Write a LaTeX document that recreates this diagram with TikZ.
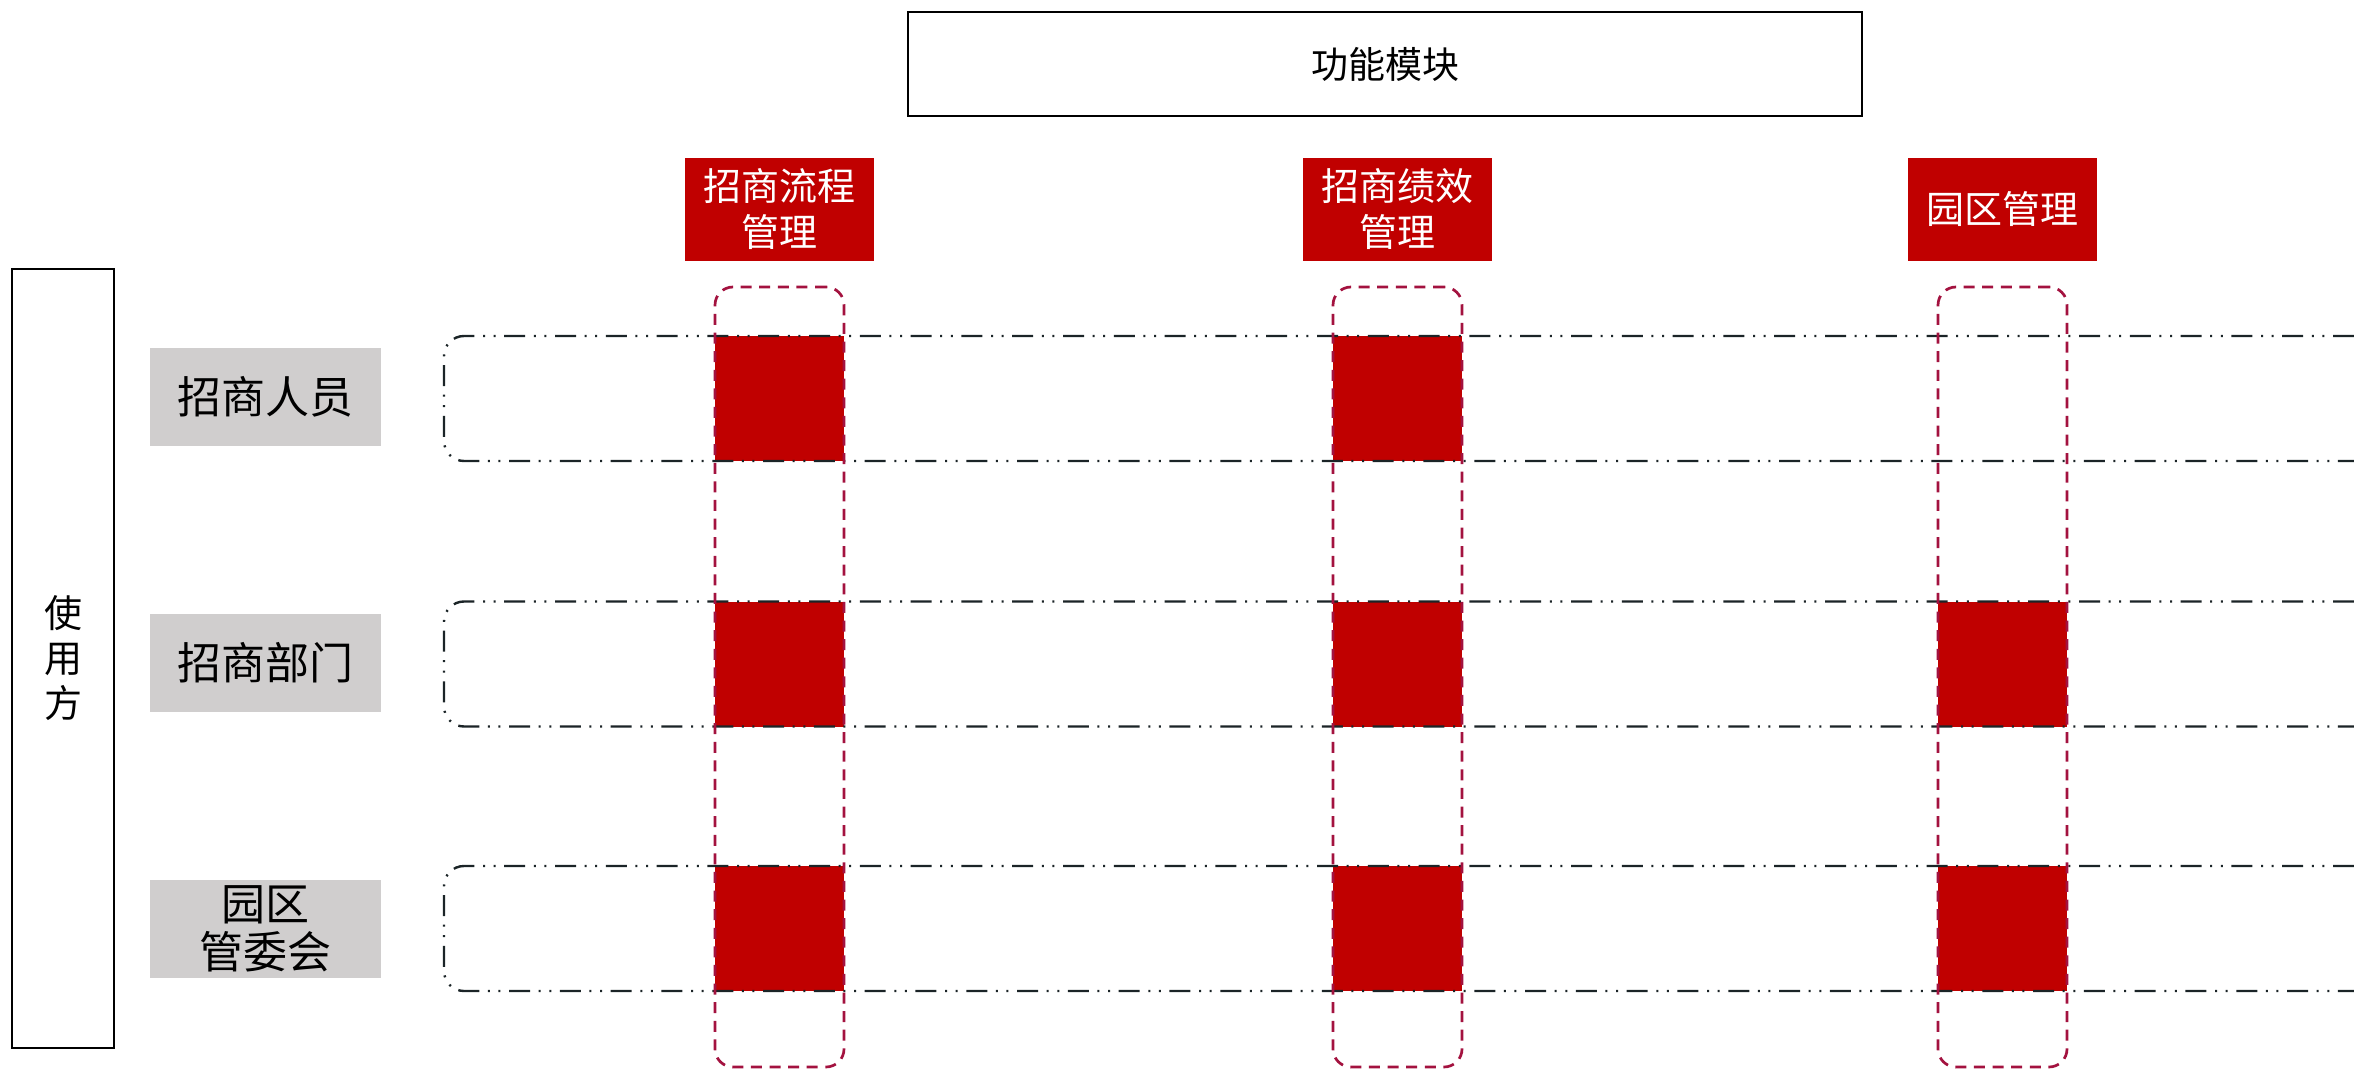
\documentclass[tikz,border=0pt]{standalone}
\usepackage{fontspec}
\newfontfamily\cjk{Noto Sans CJK SC}
\definecolor{hdrred}{HTML}{C00000}
\definecolor{colred}{HTML}{A3123F}
\definecolor{rowline}{HTML}{1B2427}
\definecolor{lblgray}{HTML}{D0CECE}
\begin{document}
\begin{tikzpicture}[x=0.5pt,y=-0.5pt,
  plainbox/.style={draw=black, line width=1.1pt, inner sep=0pt, outer sep=0pt, align=center},
  hdr/.style={fill=hdrred, text=white, inner sep=0pt, outer sep=0pt, minimum width=94.5pt, minimum height=51.5pt, align=center, font=\cjk\fontsize{19}{23}\selectfont},
  lbl/.style={fill=lblgray, inner sep=0pt, outer sep=0pt, minimum width=115.5pt, minimum height=49pt, align=center, font=\cjk\fontsize{22}{24}\selectfont},
  rowband/.style={draw=rowline, line width=1.2pt, rounded corners=10pt, dash pattern=on 10.5pt off 4.3pt on 1pt off 4.3pt on 1pt off 4.3pt, inner sep=0pt, outer sep=0pt, minimum width=965pt, minimum height=62.5pt},
  colband/.style={draw=colred, line width=1.35pt, dash pattern=on 5.5pt off 3.8pt, rounded corners=9pt, inner sep=0pt, outer sep=0pt, minimum width=64.5pt, minimum height=390pt},
  cell/.style={fill=hdrred, inner sep=0pt, outer sep=0pt, minimum width=64.5pt, minimum height=62.5pt}]
\useasboundingbox (0,0) rectangle (2354,1069);

% top box
\node[plainbox, minimum width=477pt, minimum height=52pt, font=\cjk\fontsize{18.5}{20}\selectfont] (top) at (1385,64) {功能模块};

% headers
\node[hdr] (h1) at (779.5,209.5) {招商流程\\管理};
\node[hdr] (h2) at (1397,209.5) {招商绩效\\管理};
\node[hdr] (h3) at (2002,209.5) {园区管理};

% user box
\node[plainbox, minimum width=51pt, minimum height=389.5pt, font=\cjk\fontsize{19}{22.5}\selectfont] (user) at (63,658.5) {使\\用\\方};

% labels
\node[lbl] (l1) at (265.5,397) {招商人员};
\node[lbl] (l2) at (265.5,663) {招商部门};
\node[lbl] (l3) at (265.5,928.5) {园区\\管委会};

% filled cells
\node[cell] (s11) at (779.5,398.5) {};
\node[cell] (s12) at (1397.5,398.5) {};
\node[cell] (s21) at (779.5,664) {};
\node[cell] (s22) at (1397.5,664) {};
\node[cell] (s23) at (2002.5,664) {};
\node[cell] (s31) at (779.5,928.5) {};
\node[cell] (s32) at (1397.5,928.5) {};
\node[cell] (s33) at (2002.5,928.5) {};

% row bands
\node[rowband] (r1) at (1409,398.5) {};
\node[rowband] (r2) at (1409,664) {};
\node[rowband] (r3) at (1409,928.5) {};

% column bands
\node[colband] (c1) at (779.5,677) {};
\node[colband] (c2) at (1397.5,677) {};
\node[colband] (c3) at (2002.5,677) {};
\end{tikzpicture}
\end{document}
